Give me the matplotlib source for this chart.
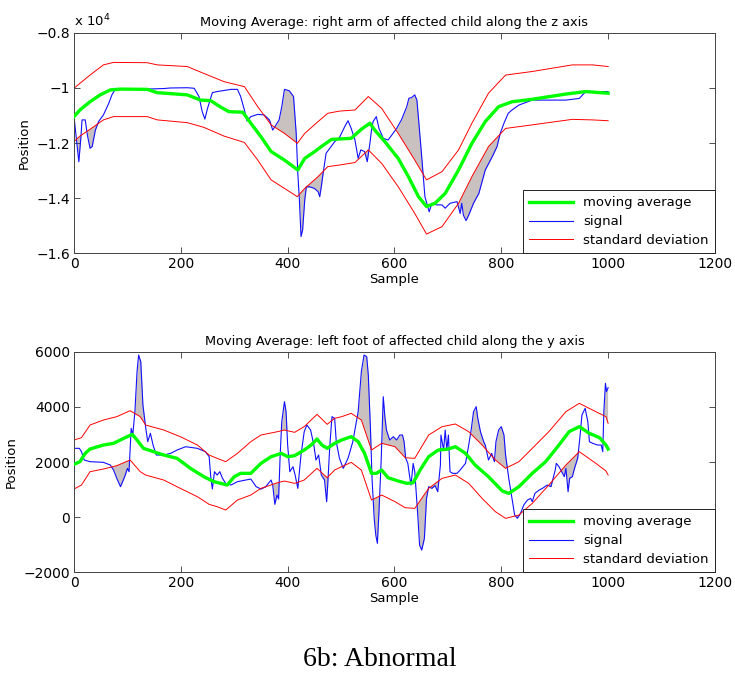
import numpy as np
import matplotlib
matplotlib.use("Agg")
import matplotlib.pyplot as plt
from matplotlib.path import Path
from matplotlib.ticker import FuncFormatter

# ---- top panel: right arm, z axis ----
arm_x = [0, 4, 9, 13, 15, 21, 25, 30, 34, 40, 46, 55, 65, 71, 77, 118, 168, 180, 212, 225,
         234, 240, 245, 250, 259, 268, 294, 306, 312, 319, 324, 331, 344, 356, 366, 372, 376,
         384, 389, 394, 403, 411, 416, 419, 422, 425, 428, 432, 435, 441, 450, 457, 460, 463,
         466, 472, 479, 488, 497, 507, 513, 519, 526, 532, 537, 544, 549, 554, 557, 560, 566,
         571, 579, 588, 595, 604, 613, 623, 627, 632, 638, 642, 646, 651, 657, 665, 670, 679,
         689, 695, 704, 717, 723, 726, 729, 734, 739, 748, 758, 770, 783, 792, 798, 805, 813,
         820, 833, 858, 921, 946, 958, 1000]
arm_signal = [-11040, -11770, -12680, -11770, -11160, -11160, -11710, -12190, -12130, -11530,
              -11220, -10980, -10560, -10250, -10050, -10050, -10020, -10000, -9990, -10010,
              -10310, -10860, -11130, -10740, -10170, -10130, -10050, -10050, -10310, -10800,
              -11200, -11040, -10960, -10980, -11160, -11530, -11410, -11160, -10680, -10050,
              -10100, -10310, -11650, -13100, -14070, -15400, -15160, -14070, -13590, -13590,
              -13650, -13770, -13950, -13590, -13160, -12370, -12190, -11950, -11800, -11400,
              -11190, -11470, -11890, -12560, -12250, -12310, -12680, -12010, -11530, -11220,
              -11040, -11470, -11830, -11890, -11710, -11470, -11160, -10680, -10370, -10350,
              -10250, -10440, -11340, -12500, -13950, -14500, -14190, -14250, -14250, -14370,
              -14190, -14130, -14560, -14190, -14620, -14820, -14620, -14190, -13830, -12980,
              -12500, -12130, -11650, -11280, -10920, -10800, -10620, -10440, -10440, -10380,
              -10130, -10130]

arm_ma_x = [0, 11, 30, 49, 68, 87, 137, 156, 212, 237, 256, 275, 290, 316, 331, 350, 369, 394,
            419, 432, 450, 463, 482, 519, 538, 554, 563, 582, 607, 626, 645, 660, 676, 695, 720,
            745, 770, 795, 820, 858, 921, 958, 1000]
arm_ma = [-11040, -10800, -10500, -10250, -10070, -10040, -10050, -10170, -10250, -10440,
          -10460, -10700, -10860, -10880, -11280, -11770, -12310, -12620, -12980, -12560,
          -12320, -12130, -11870, -11830, -11500, -11280, -11530, -11950, -12560, -13220,
          -13950, -14310, -14190, -13830, -12980, -12010, -11220, -10680, -10500, -10410,
          -10220, -10130, -10190]

arm_band_x = [0, 11, 30, 55, 74, 137, 156, 212, 243, 281, 319, 344, 369, 394, 418, 432, 457,
              475, 497, 526, 551, 576, 607, 638, 660, 689, 720, 745, 776, 808, 858, 933, 971, 1000]
arm_upper = [-10010, -9830, -9530, -9160, -9070, -9080, -9160, -9220, -9470, -9770, -9950,
             -10680, -11340, -11650, -12010, -11650, -11220, -10920, -10840, -10800, -10310,
             -10740, -11650, -12620, -13340, -13040, -12250, -11280, -10190, -9530, -9400,
             -9160, -9160, -9220]
arm_lower = [-11950, -11750, -11500, -11160, -11040, -11040, -11160, -11260, -11430, -11750,
             -11980, -12620, -13340, -13650, -13950, -13650, -13220, -12860, -12800, -12710,
             -12250, -12740, -13590, -14560, -15310, -15040, -14190, -13220, -12130, -11470,
             -11340, -11140, -11160, -11190]

# ---- bottom panel: left foot, y axis ----
foot_x = [0, 10, 14, 19, 30, 55, 68, 74, 80, 87, 91, 96, 100, 103, 107, 110, 114, 118, 121, 125,
          129, 134, 138, 143, 148, 154, 168, 181, 193, 209, 231, 246, 253, 256, 259, 263, 268,
          273, 278, 284, 294, 306, 331, 341, 350, 359, 369, 372, 376, 380, 383, 386, 389, 394,
          397, 400, 404, 410, 414, 419, 425, 431, 436, 443, 449, 453, 458, 463, 469, 473, 475,
          479, 483, 488, 491, 497, 504, 513, 522, 532, 538, 543, 548, 551, 555, 558, 562, 565,
          568, 571, 575, 579, 582, 585, 591, 598, 604, 610, 615, 618, 621, 625, 628, 631, 635,
          638, 641, 644, 647, 651, 656, 660, 664, 670, 676, 681, 686, 687, 692, 695, 698, 701,
          704, 709, 717, 723, 733, 739, 744, 748, 753, 756, 761, 767, 770, 776, 782, 787, 790,
          795, 800, 805, 808, 814, 820, 825, 830, 836, 842, 849, 855, 858, 863, 871, 877, 886,
          893, 897, 901, 903, 908, 913, 918, 921, 925, 928, 933, 938, 943, 947, 951, 957, 962,
          965, 971, 980, 987, 990, 992, 995, 997, 1000]
foot_signal = [2497, 2497, 2375, 2073, 2012, 1988, 1890, 1709, 1406, 1103, 1285, 1527, 1770,
               1648, 3224, 2981, 3830, 5284, 5890, 5648, 4072, 3284, 2739, 3042, 2618, 2254,
               2254, 2315, 2436, 2557, 2497, 2375, 2194, 1467, 1018, 1648, 1527, 1648, 1406,
               1224, 1164, 1285, 1382, 1103, 1018, 1103, 1345, 1164, 461, 800, 655, 2254, 3466,
               4194, 3830, 2618, 1648, 1830, 1527, 1042, 2254, 3103, 3345, 3163, 2618, 2073,
               2254, 1527, 1345, 557, 1164, 2618, 3648, 3588, 2739, 2133, 1770, 2133, 2739,
               3830, 5284, 5890, 5830, 5163, 3224, 1406, -48, -654, -957, 194, 2012, 4375, 3648,
               3163, 2800, 2921, 2800, 2981, 2981, 2739, 2133, 1951, 1527, 1164, 1951, 1648,
               800, -48, -1018, -1200, -776, 679, 1103, 1042, 1140, 921, 1891, 2981, 2436, 3163,
               2436, 2981, 1648, 1588, 1588, 1709, 1951, 2618, 3224, 3830, 4012, 3588, 3103,
               2739, 2618, 2073, 2315, 2012, 2739, 3163, 3285, 2981, 2254, 1406, 679, 73, -48,
               133, 436, 618, 679, 557, 861, 982, 1042, 1164, 1103, 1406, 1709, 1951, 1830,
               1649, 1467, 1770, 921, 1406, 1467, 1830, 2133, 2860, 3709, 3951, 3466, 2739,
               2679, 2618, 2618, 2376, 3830, 4860, 4557, 4703]

foot_ma_x = [0, 11, 21, 30, 55, 74, 93, 109, 118, 130, 149, 168, 193, 218, 243, 262, 287, 300,
             312, 331, 350, 369, 388, 400, 413, 431, 444, 455, 464, 474, 488, 501, 519, 532, 544,
             557, 566, 576, 588, 607, 623, 635, 648, 664, 682, 701, 714, 733, 751, 776, 802, 814,
             833, 858, 883, 908, 927, 946, 965, 984, 996, 1000]
foot_ma = [1915, 2012, 2315, 2472, 2618, 2679, 2860, 3006, 2800, 2497, 2375, 2254, 2133, 1770,
           1467, 1285, 1164, 1467, 1588, 1588, 1951, 2194, 2315, 2194, 2230, 2436, 2618, 2836,
           2618, 2497, 2679, 2800, 2921, 2739, 2315, 1588, 1588, 1709, 1430, 1309, 1224, 1249,
           1709, 2194, 2436, 2472, 2557, 2315, 1890, 1466, 945, 860, 1103, 1588, 2012, 2618,
           3103, 3285, 3042, 2885, 2618, 2472]

foot_band_x = [0, 14, 30, 55, 80, 105, 124, 134, 168, 199, 231, 253, 268, 284, 306, 331, 350,
               381, 394, 413, 431, 455, 474, 488, 501, 519, 538, 557, 576, 601, 620, 638, 664,
               689, 714, 739, 764, 789, 808, 833, 858, 889, 921, 946, 977, 996, 1000]
foot_upper = [2800, 2885, 3345, 3527, 3648, 3866, 3648, 3345, 3163, 2921, 2618, 2254, 2133, 2012,
              2315, 2739, 2981, 3103, 3163, 3079, 3285, 3733, 3370, 3588, 3648, 3770, 3527, 2436,
              2679, 2557, 2157, 2133, 2981, 3285, 3382, 3103, 2618, 2073, 1770, 2012, 2497, 3103,
              3830, 4133, 3830, 3648, 3406]
foot_lower = [1018, 1164, 1648, 1745, 1867, 2073, 1648, 1527, 1345, 1042, 739, 461, 376, 254,
              618, 800, 1042, 1248, 1309, 1224, 1345, 1770, 1430, 1709, 1830, 1988, 1709, 618,
              800, 558, 339, 315, 1042, 1406, 1527, 1224, 679, 194, -48, 73, 497, 1164, 1891,
              2376, 1951, 1673, 1527]

titles = ["Moving Average: right arm of affected child along the z axis",
          "Moving Average: left foot of affected child along the y axis"]

SHADE = "#c9c0c0"


def shade_outside(ax, x, sig, bx, up, lo, ylim):
    # grey area where the signal leaves the band, done with clip paths
    bx = np.asarray(bx, float)
    above = Path(np.column_stack([np.r_[bx, bx[::-1]],
                                  np.r_[up, np.full(len(bx), ylim[1])]]))
    below = Path(np.column_stack([np.r_[bx, bx[::-1]],
                                  np.r_[lo, np.full(len(bx), ylim[0])]]))
    f1 = ax.fill_between(x, sig, ylim[0], color=SHADE, lw=0, zorder=1)
    f1.set_clip_path(above, ax.transData)
    f2 = ax.fill_between(x, sig, ylim[1], color=SHADE, lw=0, zorder=1)
    f2.set_clip_path(below, ax.transData)


def draw_panel(ax, x, sig, mx, ma, bx, up, lo, ylim, yticks, title, fmt):
    shade_outside(ax, x, sig, bx, up, lo, ylim)
    ax.plot(mx, ma, color="#00ff00", lw=2.4, label="moving average", zorder=3)
    ax.plot(x, sig, color="#1010ff", lw=0.8, label="signal", zorder=2)
    ax.plot(bx, up, color="#ff0000", lw=0.7, label="standard deviation", zorder=2)
    ax.plot(bx, lo, color="#ff0000", lw=0.7, zorder=2)

    ax.set_xlim(0, 1200)
    ax.set_ylim(*ylim)
    ax.set_xticks(np.arange(0, 1201, 200))
    ax.set_yticks(yticks)
    ax.yaxis.set_major_formatter(FuncFormatter(fmt))
    ax.tick_params(direction="in", top=True, right=True, length=4, width=0.6,
                   labelsize=10, color="#333333", pad=3)
    for s in ax.spines.values():
        s.set_color("#444444")
        s.set_linewidth(0.7)
    ax.set_title(title, fontsize=9.3, pad=5)
    ax.set_xlabel("Sample", fontsize=9.5, labelpad=1)
    ax.set_ylabel("Position", fontsize=9.5, labelpad=4)
    leg = ax.legend(loc="lower right", borderaxespad=0, fancybox=False, fontsize=9.5,
                    handlelength=3.3, framealpha=1, borderpad=0.45, labelspacing=0.45)
    leg.get_frame().set_edgecolor("#222222")
    leg.get_frame().set_linewidth(0.7)


def arm_fmt(v, pos):
    return f"{v / 1e4:g}".replace("-", "\u2212")


def foot_fmt(v, pos):
    return f"{v:g}".replace("-", "\u2212")


fig = plt.figure(figsize=(7.35, 6.73), dpi=100)
ax1 = fig.add_axes([0.1007, 0.624, 0.872, 0.327])
ax2 = fig.add_axes([0.1007, 0.150, 0.872, 0.327])

draw_panel(ax1, arm_x, arm_signal, arm_ma_x, arm_ma, arm_band_x, arm_upper, arm_lower,
           (-16000, -8000), np.arange(-16000, -7999, 2000), titles[0], arm_fmt)
ax1.text(0.0, 1.015, r"x 10$^4$", transform=ax1.transAxes, fontsize=9.5,
         ha="left", va="bottom")

draw_panel(ax2, foot_x, foot_signal, foot_ma_x, foot_ma, foot_band_x, foot_upper, foot_lower,
           (-2000, 6000), np.arange(-2000, 6001, 2000), titles[1], foot_fmt)

fig.text(0.517, 0.02, "6b: Abnormal", family="Liberation Serif", fontsize=20,
         ha="center", va="center")

fig.savefig("out.png", dpi=100)
